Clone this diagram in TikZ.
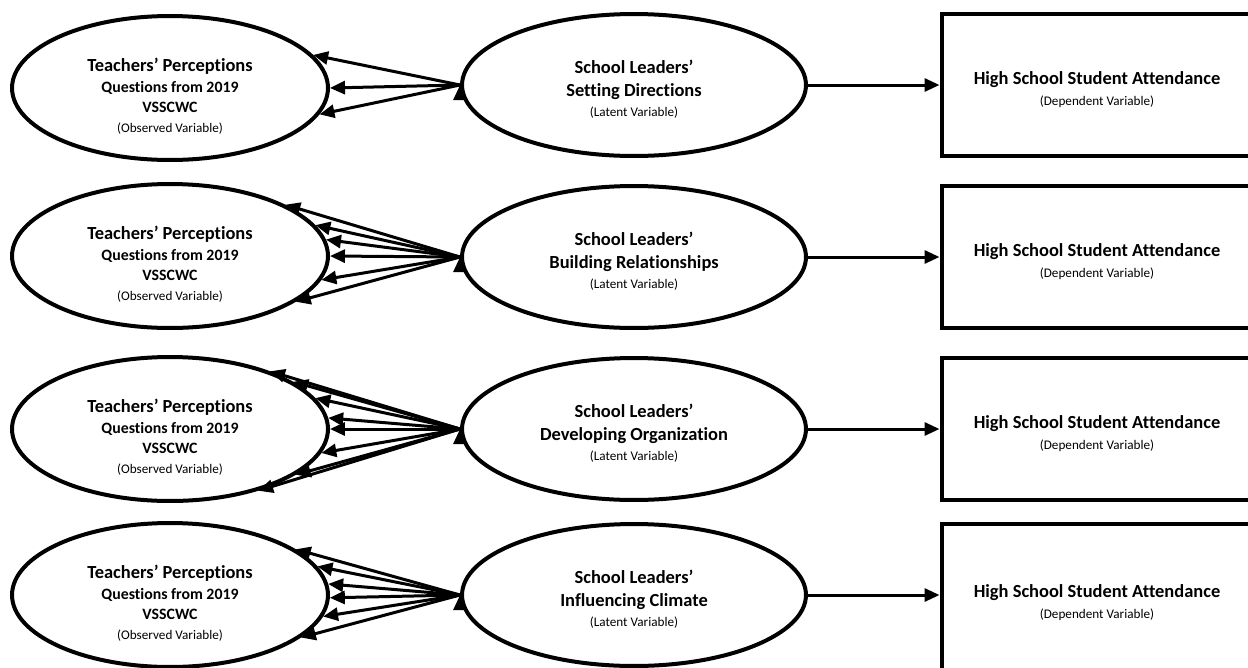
\documentclass[tikz,border=0pt]{standalone}
\usepackage{fontspec}
\setmainfont{Carlito}[Ligatures={NoCommon}]
\usetikzlibrary{shapes.geometric}
\usetikzlibrary{arrows.meta}

\begin{document}
\begin{tikzpicture}[x=0.02cm, y=-0.02cm, >={Triangle[length=0.3cm, width=0.26cm]},
  observed/.style={ellipse, draw, line width=0.08cm, minimum width=6.32cm, minimum height=2.88cm,
    inner sep=0pt, align=center, font=\fontsize{9}{11.4}\selectfont\bfseries},
  latent/.style={ellipse, draw, line width=0.08cm, minimum width=6.88cm, minimum height=2.84cm,
    inner sep=0pt, align=center, font=\fontsize{10.5}{11.4}\selectfont\bfseries},
  outcome/.style={rectangle, draw, line width=0.08cm, minimum width=6.22cm, minimum height=2.84cm,
    inner sep=0pt, align=center, font=\fontsize{10.5}{11.4}\selectfont\bfseries},
  link/.style={->, line width=0.06cm}]
  \useasboundingbox (0,0) rectangle (1248,667);

  % ===== Row 1: Setting Directions =====
  \node[observed] (obs1) at (170,88) {\rule{0pt}{17pt}{\fontsize{10.5}{12}\selectfont Teachers’ Perceptions}\\[1pt]
    Questions from 2019\\ VSSCWC\\ {\fontsize{7.5}{9}\selectfont\mdseries (Observed Variable)}};
  \node[latent] (lat1) at (634,85) {\rule{0pt}{12.5pt}School Leaders’\\[1.5pt] Setting Directions\\
    {\fontsize{7.5}{9}\selectfont\mdseries (Latent Variable)}};
  \node[outcome] (dep1) at (1097,85) {\rule{0pt}{12.5pt}High School Student Attendance\\[1pt]
    {\fontsize{7.5}{9}\selectfont\mdseries (Dependent Variable)}};
  \draw[link] (lat1.west) edge (obs1.13) edge (obs1.0) edge (obs1.-10);
  \draw[link] (lat1.east) -- (dep1.west);

  % ===== Row 2: Building Relationships =====
  \node[observed] (obs2) at (170,256) {\rule{0pt}{17pt}{\fontsize{10.5}{12}\selectfont Teachers’ Perceptions}\\[1pt]
    Questions from 2019\\ VSSCWC\\ {\fontsize{7.5}{9}\selectfont\mdseries (Observed Variable)}};
  \node[latent] (lat2) at (634,257) {\rule{0pt}{12.5pt}School Leaders’\\[1.5pt] Building Relationships\\
    {\fontsize{7.5}{9}\selectfont\mdseries (Latent Variable)}};
  \node[outcome] (dep2) at (1097,257) {\rule{0pt}{12.5pt}High School Student Attendance\\[1pt]
    {\fontsize{7.5}{9}\selectfont\mdseries (Dependent Variable)}};
  \draw[link] (lat2.west) edge (obs2.24) edge (obs2.12) edge (obs2.6) edge (obs2.0)
    edge (obs2.-9) edge (obs2.-20);
  \draw[link] (lat2.east) -- (dep2.west);

  % ===== Row 3: Developing Organization =====
  \node[observed] (obs3) at (170,429) {\rule{0pt}{17pt}{\fontsize{10.5}{12}\selectfont Teachers’ Perceptions}\\[1pt]
    Questions from 2019\\ VSSCWC\\ {\fontsize{7.5}{9}\selectfont\mdseries (Observed Variable)}};
  \node[latent] (lat3) at (634,429) {\rule{0pt}{12.5pt}School Leaders’\\[1.5pt] Developing Organization\\
    {\fontsize{7.5}{9}\selectfont\mdseries (Latent Variable)}};
  \node[outcome] (dep3) at (1097,429) {\rule{0pt}{12.5pt}High School Student Attendance\\[1pt]
    {\fontsize{7.5}{9}\selectfont\mdseries (Dependent Variable)}};
  \draw[link] (lat3.west) edge (obs3.30) edge (obs3.21) edge (obs3.12) edge (obs3.4)
    edge (obs3.0) edge (obs3.-9) edge (obs3.-20) edge (obs3.-35);
  \draw[link] (lat3.east) -- (dep3.west);

  % ===== Row 4: Influencing Climate =====
  \node[observed] (obs4) at (170,595) {\rule{0pt}{17pt}{\fontsize{10.5}{12}\selectfont Teachers’ Perceptions}\\[1pt]
    Questions from 2019\\ VSSCWC\\ {\fontsize{7.5}{9}\selectfont\mdseries (Observed Variable)}};
  \node[latent] (lat4) at (634,595) {\rule{0pt}{12.5pt}School Leaders’\\[1.5pt] Influencing Climate\\
    {\fontsize{7.5}{9}\selectfont\mdseries (Latent Variable)}};
  \node[outcome, minimum height=2.96cm] (dep4) at (1097,598) {\rule{0pt}{12.5pt}High School Student Attendance\\[1pt]
    {\fontsize{7.5}{9}\selectfont\mdseries (Dependent Variable)}};
  \draw[link] (lat4.east) -- (lat4.east -| dep4.west);
  \draw[link] (lat4.west) edge (obs4.20) edge (obs4.11) edge (obs4.4) edge (obs4.-1)
    edge (obs4.-8) edge (obs4.-18);
\end{tikzpicture}
\end{document}
